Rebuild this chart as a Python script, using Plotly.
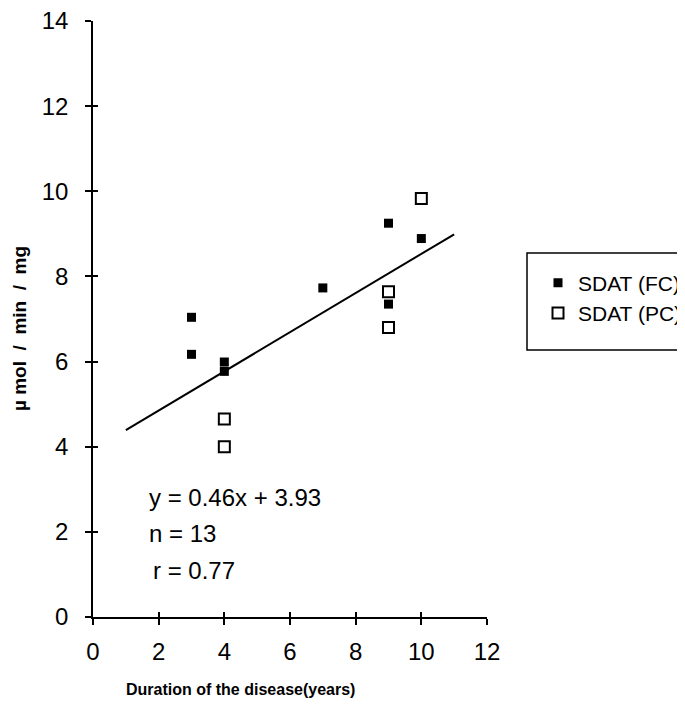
import plotly.graph_objects as go

# Data
fc_x = [3, 3, 4, 4, 7, 9, 9, 10]
fc_y = [7.04, 6.17, 5.99, 5.77, 7.73, 9.25, 7.35, 8.89]
pc_x = [4, 4, 9, 9, 10]
pc_y = [4.65, 4.0, 7.64, 6.80, 9.83]
fit_x = [1, 11]
fit_y = [4.39, 8.99]
x_ticks = [0, 2, 4, 6, 8, 10, 12]
y_ticks = [0, 2, 4, 6, 8, 10, 12, 14]
stats_lines = ["y = 0.46x + 3.93", "n = 13", "r = 0.77"]

FONT = "Liberation Sans, Arial, sans-serif"

# page body has an 8px default margin; figure sized to fill the rest of the window
W, H = 677, 705
OFF = 8

fig = go.Figure()
fig.add_trace(go.Scatter(x=fit_x, y=fit_y, mode="lines",
                         line=dict(color="black", width=2), showlegend=False,
                         hoverinfo="skip"))
fig.add_trace(go.Scatter(x=fc_x, y=fc_y, mode="markers", name="SDAT (FC)",
                         marker=dict(symbol="square", size=9, color="black")))
fig.add_trace(go.Scatter(x=pc_x, y=pc_y, mode="markers", name="SDAT (PC)",
                         marker=dict(symbol="square-open", size=11, color="black",
                                     line=dict(width=2, color="black"))))
# invisible trace to carry the inner-tick overlay axes
fig.add_trace(go.Scatter(x=[None], y=[None], xaxis="x2", yaxis="y2",
                         showlegend=False, hoverinfo="skip"))

axis_common = dict(showgrid=False, zeroline=False, linecolor="black",
                   tickcolor="black", tickwidth=1.5, linewidth=1.5, automargin=False,
                   ticklabeloverflow="allow")

fig.update_layout(
    width=W, height=H,
    margin=dict(l=93 - OFF, r=198, t=21 - OFF, b=96, autoexpand=False),
    paper_bgcolor="white", plot_bgcolor="white",
    font=dict(family=FONT, color="black"),
    xaxis=dict(range=[0, 12], tickvals=x_ticks, ticks="outside", ticklen=6,
               showline=True, tickfont=dict(size=24), ticklabelstandoff=6,
               **axis_common),
    yaxis=dict(range=[0, 14], tickvals=y_ticks, ticks="outside", ticklen=6,
               showline=True, tickfont=dict(size=24), ticklabelstandoff=12,
               **axis_common),
    xaxis2=dict(range=[0, 12], tickvals=x_ticks, ticks="inside", ticklen=5,
                overlaying="x", anchor="y2", showticklabels=False, showline=False,
                showgrid=False, zeroline=False, tickcolor="black", tickwidth=1.5),
    yaxis2=dict(range=[0, 14], tickvals=y_ticks, ticks="inside", ticklen=5,
                overlaying="y", anchor="x2", showticklabels=False, showline=False,
                showgrid=False, zeroline=False, tickcolor="black", tickwidth=1.5),
    legend=dict(xref="container", yref="container", x=(538 - OFF) / W, xanchor="left",
                y=1 - (298 - OFF) / H, yanchor="middle",
                font=dict(size=21, family=FONT), bgcolor="rgba(0,0,0,0)",
                borderwidth=0),
    showlegend=True,
)

# legend frame
fig.add_shape(type="rect", xref="paper", yref="paper",
              x0=(527 - 93) / 394, x1=(700 - 93) / 394,
              y0=(617 - 350) / 596, y1=(617 - 253) / 596,
              line=dict(color="black", width=1.5), fillcolor="rgba(0,0,0,0)")

# regression statistics
stat_pos = [(1.64, 2.80), (1.64, 1.97), (1.76, 1.10)]
for txt, (ax, ay) in zip(stats_lines, stat_pos):
    fig.add_annotation(x=ax, y=ay, xref="x", yref="y", text=txt, showarrow=False,
                       xanchor="left", yanchor="middle",
                       font=dict(size=24, family=FONT, color="black"))

# axis titles
fig.add_annotation(x=(240 - 93) / 394, y=(617 - 689) / 596, xref="paper", yref="paper",
                   text="<b>Duration of the disease(years)</b>", showarrow=False,
                   xanchor="center", yanchor="middle",
                   font=dict(size=16, family=FONT, color="black"))
fig.add_annotation(x=(19 - 93) / 394, y=(617 - 329) / 596, xref="paper", yref="paper",
                   text="<b>µ mol  /  min  /  mg</b>", showarrow=False, textangle=-90,
                   xanchor="center", yanchor="middle",
                   font=dict(size=19, family=FONT, color="black"))

fig.write_html("out.html")
